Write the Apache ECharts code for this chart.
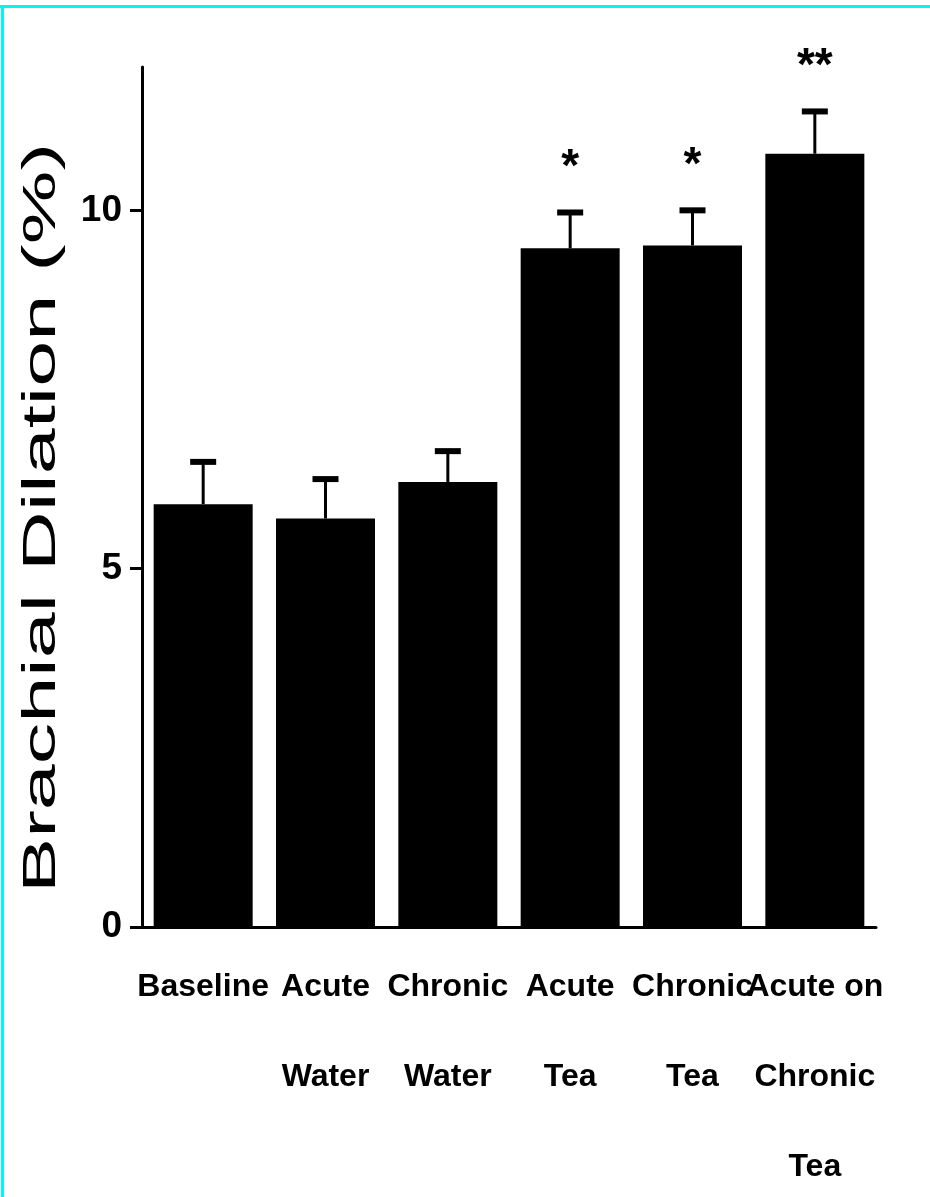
<!DOCTYPE html>
<html>
<head>
<meta charset="utf-8">
<script src="https://cdn.jsdelivr.net/npm/echarts@6/dist/echarts.min.js"></script>
<style>
html,body{margin:0;padding:0;background:#fff;}
#chart{width:930px;height:1197px;}
</style>
</head>
<body>
<div id="chart"></div>
<script>
const categories = ['Baseline', 'Acute\nWater', 'Chronic\nWater', 'Acute\nTea', 'Chronic\nTea', 'Acute on\nChronic\nTea'];
const means = [5.90, 5.70, 6.21, 9.47, 9.51, 10.79];
const errorTops = [6.49, 6.25, 6.64, 9.97, 10.00, 11.38];
const stars = ['', '', '', '*', '*', '**'];
const yTicks = [0, 5, 10];
const yTitle = 'Brachial Dilation (%)';

const sans = "'Liberation Sans', Arial, sans-serif";

const chart = echarts.init(document.getElementById('chart'));
chart.setOption({
  animation: false,
  backgroundColor: '#ffffff',
  grid: { left: 142, right: 54, top: 67, bottom: 270, containLabel: false, outerBoundsMode: 'none' },
  xAxis: {
    type: 'category',
    data: categories,
    axisLine: { lineStyle: { color: '#000', width: 3 } },
    axisTick: { show: false },
    axisLabel: {
      color: '#000', fontFamily: sans, fontWeight: 'bold', fontSize: 32,
      lineHeight: 90, margin: 15, interval: 0, verticalAlign: 'top'
    }
  },
  yAxis: {
    type: 'value', min: 0, max: 12, interval: 5,
    splitLine: { show: false },
    axisLine: { show: true, lineStyle: { color: '#000', width: 3 } },
    axisTick: { show: true, length: 12, lineStyle: { color: '#000', width: 3 }, customValues: yTicks },
    axisLabel: {
      color: '#000', fontFamily: sans, fontWeight: 'bold', fontSize: 37,
      margin: 20, customValues: yTicks
    }
  },
  graphic: [
    { type: 'rect', left: 0, top: 5, shape: { width: 930, height: 3 }, style: { fill: '#00f5fa' }, z: 10 },
    { type: 'rect', left: 1, top: 5, shape: { width: 3, height: 1192 }, style: { fill: '#00f5fa' }, z: 10 },
    {
      type: 'text', x: 42, y: 518, rotation: Math.PI / 2, scaleX: 1.8, scaleY: 1,
      style: {
        text: yTitle, fill: '#000', fontFamily: sans,
        fontSize: 46, textAlign: 'center', textVerticalAlign: 'middle'
      }
    }
  ],
  series: [
    {
      type: 'bar',
      data: means,
      barWidth: 99,
      itemStyle: { color: '#000' },
      z: 2
    },
    {
      type: 'custom',
      data: means.map((m, i) => [i, m, errorTops[i]]),
      z: 3,
      renderItem: function (params, api) {
        const i = api.value(0);
        const top = api.coord([i, api.value(1)]);
        const cap = api.coord([i, api.value(2)]);
        const children = [
          { type: 'line', shape: { x1: top[0], y1: top[1], x2: cap[0], y2: cap[1] }, style: { stroke: '#000', lineWidth: 3 } },
          { type: 'rect', shape: { x: cap[0] - 13, y: cap[1] - 3, width: 26, height: 6 }, style: { fill: '#000' } }
        ];
        const s = stars[i];
        if (s) {
          children.push({
            type: 'text', x: cap[0], y: cap[1] - 44,
            style: { text: s, fill: '#000', fontFamily: sans, fontWeight: 'bold', fontSize: 46, textAlign: 'center', textVerticalAlign: 'middle' }
          });
        }
        return { type: 'group', children: children };
      }
    }
  ]
});
</script>
</body>
</html>
